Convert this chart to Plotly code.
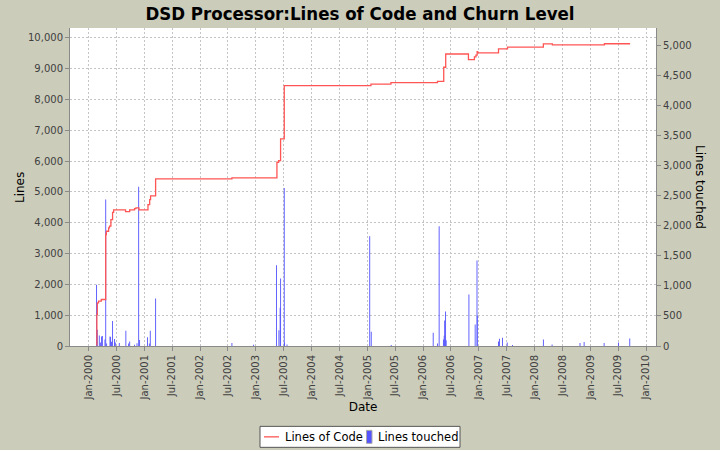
import plotly.graph_objects as go

# ---- Lines of Code (step series, left axis) ----
loc_dates = [
    "2000-02-22", "2000-02-24", "2000-02-27", "2000-03-06", "2000-03-24",
    "2000-04-22", "2000-04-26", "2000-05-11", "2000-05-17", "2000-05-26",
    "2000-06-06", "2000-06-13", "2000-08-30", "2000-09-26", "2000-10-28",
    "2000-11-06", "2000-11-26", "2001-01-24", "2001-02-04", "2001-02-10",
    "2001-03-15", "2002-07-28", "2003-05-19", "2003-05-30", "2003-06-12",
    "2003-07-06", "2005-01-24", "2005-06-04", "2006-04-05", "2006-05-16",
    "2006-05-29", "2006-10-25", "2006-12-03", "2006-12-13", "2006-12-21",
    "2006-12-25", "2007-05-10", "2007-07-08", "2008-02-28", "2008-04-27",
    "2009-04-03", "2009-09-14",
]
loc_values = [
    30, 1020, 1400, 1455, 1510,
    3620, 3725, 3835, 3890, 4105,
    4340, 4420, 4365, 4420, 4460,
    4485, 4420, 4590, 4755, 4875,
    5425, 5458, 5965, 6020, 6725,
    8453, 8500, 8551, 8590, 9050,
    9480, 9295, 9384, 9445, 9560,
    9514, 9644, 9700, 9810, 9774,
    9812, 9840,
]

# ---- Lines touched (bars, right axis) ----
touch_dates = [
    "2000-02-22", "2000-02-27", "2000-03-11", "2000-03-18", "2000-03-26",
    "2000-03-31", "2000-04-17", "2000-04-22", "2000-04-28", "2000-05-20",
    "2000-05-24", "2000-05-30", "2000-06-06", "2000-06-19", "2000-06-24",
    "2000-07-20", "2000-09-01", "2000-09-19", "2000-09-26", "2000-10-28",
    "2000-11-13", "2000-11-24", "2000-11-30", "2001-01-21", "2001-02-02",
    "2001-02-08", "2001-03-15", "2002-07-28", "2002-12-17", "2003-05-16",
    "2003-06-01", "2003-06-09", "2003-06-12", "2003-07-06", "2003-07-08",
    "2003-07-24", "2005-01-16", "2005-01-26", "2005-06-06", "2006-03-08",
    "2006-04-05", "2006-04-16", "2006-05-14", "2006-05-19", "2006-05-22",
    "2006-05-28", "2006-06-01", "2006-10-28", "2006-12-08", "2006-12-20",
    "2006-12-22", "2007-05-10", "2007-05-16", "2007-06-05", "2007-07-06",
    "2007-08-10", "2008-02-28", "2008-04-25", "2008-10-25", "2008-11-21",
    "2009-04-01", "2009-07-04", "2009-09-16",
]
touch_values = [
    1020, 270, 175, 60, 160,
    165, 110, 2440, 40, 160,
    150, 70, 415, 115, 60,
    50, 255, 40, 75, 20,
    45, 2650, 100, 145, 40,
    255, 790, 50, 20, 1345,
    263, 635, 1125, 2630, 58,
    25, 1827, 236, 15, 220,
    40, 1994, 110, 170, 424,
    574, 95, 857, 358, 1423,
    507, 75, 120, 136, 60,
    15, 108, 25, 50, 66,
    50, 60, 125,
]

series_names = ["Lines of Code", "Lines touched"]

BG = "#CCCCBB"
AXIS = "#8A8A8A"
GRID = "#C4C4C4"
RED = "#FF5555"
BLUE = "#5555FF"
TICKFONT = dict(family="DejaVu Sans", size=10, color="#404040")

# plot area in pixels (for converting paper coordinates of the legend)
L, R, T, B = 70, 656, 28, 346.5
PW, PH = R - L, B - T


def px(x):
    return (x - L) / PW


def py(y):
    return (B - y) / PH


fig = go.Figure()
fig.add_trace(go.Bar(
    x=touch_dates, y=touch_values, name=series_names[1], yaxis="y",
    marker=dict(color="rgba(85,85,255,0.999)", line=dict(width=0)),
    width=6 * 86400000, showlegend=False,
))
fig.add_trace(go.Scatter(
    x=loc_dates, y=loc_values, name=series_names[0], yaxis="y2", mode="lines",
    line=dict(color=RED, width=1.3, shape="hv"), showlegend=False,
))

# legend drawn as a box with sample marks and text
shapes = [
    dict(type="rect", xref="paper", yref="paper", x0=px(260), x1=px(460),
         y0=py(448), y1=py(427), fillcolor="white",
         line=dict(color="#555555", width=1), layer="above"),
    dict(type="line", xref="paper", yref="paper", x0=px(264), x1=px(279),
         y0=py(437.5), y1=py(437.5), line=dict(color=RED, width=1.3), layer="above"),
    dict(type="rect", xref="paper", yref="paper", x0=px(366.5), x1=px(372),
         y0=py(444), y1=py(431), fillcolor=BLUE,
         line=dict(color="#AAAAAA", width=1), layer="above"),
]

annotations = [
    dict(text="Lines", textangle=-90, xref="paper", yref="paper",
         x=px(20), y=0.5, xanchor="center", yanchor="middle",
         showarrow=False, font=dict(size=12, color="black")),
    dict(text="Lines touched", textangle=90, xref="paper", yref="paper",
         x=px(700), y=0.5, xanchor="center", yanchor="middle",
         showarrow=False, font=dict(size=12, color="black")),
    dict(text=series_names[0], xref="paper", yref="paper",
         x=px(282.5), y=py(437.5), xanchor="left", yanchor="middle",
         showarrow=False, font=dict(size=11.5, color="black")),
    dict(text=series_names[1], xref="paper", yref="paper",
         x=px(376), y=py(437.5), xanchor="left", yanchor="middle",
         showarrow=False, font=dict(size=11.5, color="black")),
]

fig.update_layout(
    width=720, height=450,
    margin=dict(l=L, r=720 - R, t=T, b=450 - B, pad=0, autoexpand=False),
    paper_bgcolor=BG, plot_bgcolor="white",
    font=dict(family="DejaVu Sans", size=12, color="black"),
    title=dict(text="<b>DSD Processor:Lines of Code and Churn Level</b>",
               x=0.5, xref="container", xanchor="center",
               y=1 - 14 / 450, yref="container", yanchor="middle",
               font=dict(family="DejaVu Sans Condensed, DejaVu Sans", size=18.5, color="black")),
    bargap=0.2,
    showlegend=False,
    xaxis=dict(
        type="date", range=["1999-09-01", "2010-03-07"],
        tick0="2000-01-01", dtick="M6", tickformat="%b-%Y", tickangle=-90,
        tickfont=TICKFONT, ticks="outside", ticklen=4, tickcolor=AXIS,
        showline=True, linecolor=AXIS, linewidth=1,
        showgrid=True, gridcolor=GRID, griddash="2px,2px", gridwidth=1,
        zeroline=False, automargin=False,
        title=dict(text="Date", font=dict(size=12), standoff=2),
    ),
    yaxis=dict(
        side="right", range=[0, 5294], dtick=500, tickformat=",d",
        tickfont=TICKFONT, ticks="outside", ticklen=4, tickcolor=AXIS,
        showline=True, linecolor=AXIS, linewidth=1,
        showgrid=False, zeroline=False, automargin=False,
    ),
    yaxis2=dict(
        side="left", overlaying="y", range=[0, 10324], dtick=1000, tickformat=",d",
        tickfont=TICKFONT, ticks="outside", ticklen=4, tickcolor=AXIS,
        showline=True, linecolor=AXIS, linewidth=1,
        showgrid=True, gridcolor=GRID, griddash="2px,2px", gridwidth=1,
        zeroline=False, automargin=False,
    ),
    shapes=shapes,
    annotations=annotations,
)

fig.write_html("out.html")
